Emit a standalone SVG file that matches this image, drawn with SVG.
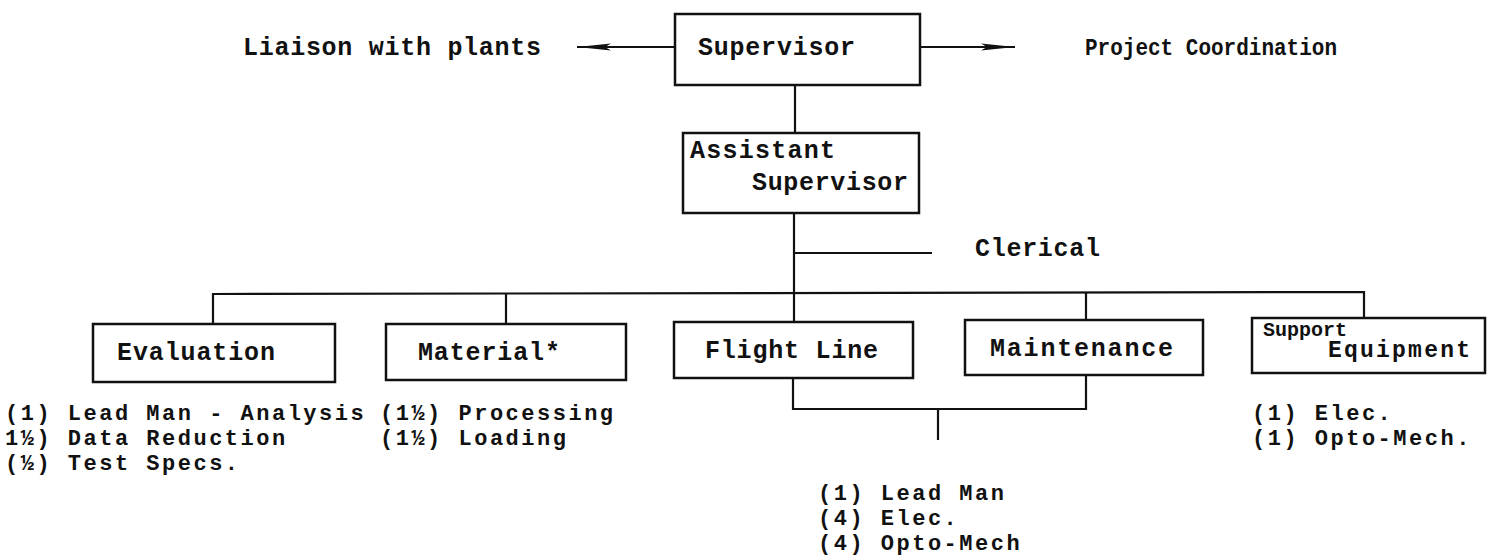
<svg xmlns="http://www.w3.org/2000/svg" width="1494" height="560" viewBox="0 0 1494 560">
<style>
.t{font-family:"Liberation Mono","DejaVu Sans Mono",monospace;font-weight:bold;font-size:25px;fill:#111}
.l{font-family:"Liberation Mono","DejaVu Sans Mono",monospace;font-weight:bold;font-size:22px;letter-spacing:2.5px;fill:#111}
.b{fill:none;stroke:#111;stroke-width:2.5}
.c{fill:none;stroke:#111;stroke-width:2.2}
</style>
<defs>
<marker id="ah" viewBox="0 0 34 10" refX="34" refY="5" markerWidth="34" markerHeight="10" markerUnits="userSpaceOnUse" orient="auto">
<path d="M0,1.5 L34,5 L0,8.5 L6,5 Z" fill="#111"/>
</marker>
</defs>
<rect width="1494" height="560" fill="#fff"/>
<g id="connectors">
<line class="c" x1="675" y1="47" x2="577" y2="47" marker-end="url(#ah)"/>
<line class="c" x1="920" y1="47" x2="1015" y2="47" marker-end="url(#ah)"/>
<line class="c" x1="795" y1="85" x2="795" y2="133"/>
<line class="c" x1="794" y1="213" x2="794" y2="322"/>
<line class="c" x1="794" y1="253" x2="932" y2="253"/>
<polyline class="c" points="213,324 213,294 1364,292 1364,318"/>
<line class="c" x1="506" y1="294" x2="506" y2="324"/>
<line class="c" x1="1086" y1="292" x2="1086" y2="320"/>
<polyline class="c" points="793,378 793,409 1086,409 1086,375"/>
<line class="c" x1="938" y1="409" x2="938" y2="440"/>
</g>
<g id="liaison"><text class="t" x="243" y="55" textLength="298">Liaison with plants</text></g>
<g id="supervisor"><rect class="b" x="675" y="14" width="245" height="71"/><text class="t" x="698" y="55" textLength="157">Supervisor</text></g>
<g id="project"><text class="t" x="1085" y="55" style="font-size:24px" textLength="252" lengthAdjust="spacingAndGlyphs">Project Coordination</text></g>
<g id="assistant"><rect class="b" x="683" y="133" width="236" height="80"/><text class="t" x="690" y="158" textLength="145">Assistant</text><text class="t" x="752" y="190" textLength="156">Supervisor</text></g>
<g id="clerical"><text class="t" x="975" y="256" textLength="125">Clerical</text></g>
<g id="evaluation"><rect class="b" x="93" y="324" width="242" height="58"/><text class="t" x="117" y="360" textLength="158">Evaluation</text></g>
<g id="material"><rect class="b" x="386" y="324" width="240" height="56"/><text class="t" x="418" y="360" textLength="142">Material*</text></g>
<g id="flightline"><rect class="b" x="674" y="322" width="239" height="56"/><text class="t" x="705" y="358" textLength="173">Flight Line</text></g>
<g id="maintenance"><rect class="b" x="965" y="320" width="238" height="55"/><text class="t" x="990" y="356" textLength="183">Maintenance</text></g>
<g id="support"><rect class="b" x="1252" y="318" width="233" height="55"/><text class="t" x="1263" y="336" style="font-size:20px" textLength="84" lengthAdjust="spacingAndGlyphs">Support</text><text class="t" x="1328" y="357" style="font-size:23px" textLength="142">Equipment</text></g>
<g id="eval-list">
<text class="l" x="5" y="420">(1) Lead Man - Analysis</text>
<text class="l" x="5" y="445">1½) Data Reduction</text>
<text class="l" x="5" y="470">(½) Test Specs.</text>
</g>
<g id="material-list">
<text class="l" x="380" y="420">(1½) Processing</text>
<text class="l" x="380" y="445">(1½) Loading</text>
</g>
<g id="flight-list">
<text class="l" x="818" y="500">(1) Lead Man</text>
<text class="l" x="818" y="525">(4) Elec.</text>
<text class="l" x="818" y="550">(4) Opto-Mech</text>
</g>
<g id="support-list">
<text class="l" x="1252" y="420">(1) Elec.</text>
<text class="l" x="1252" y="445">(1) Opto-Mech.</text>
</g>
</svg>
